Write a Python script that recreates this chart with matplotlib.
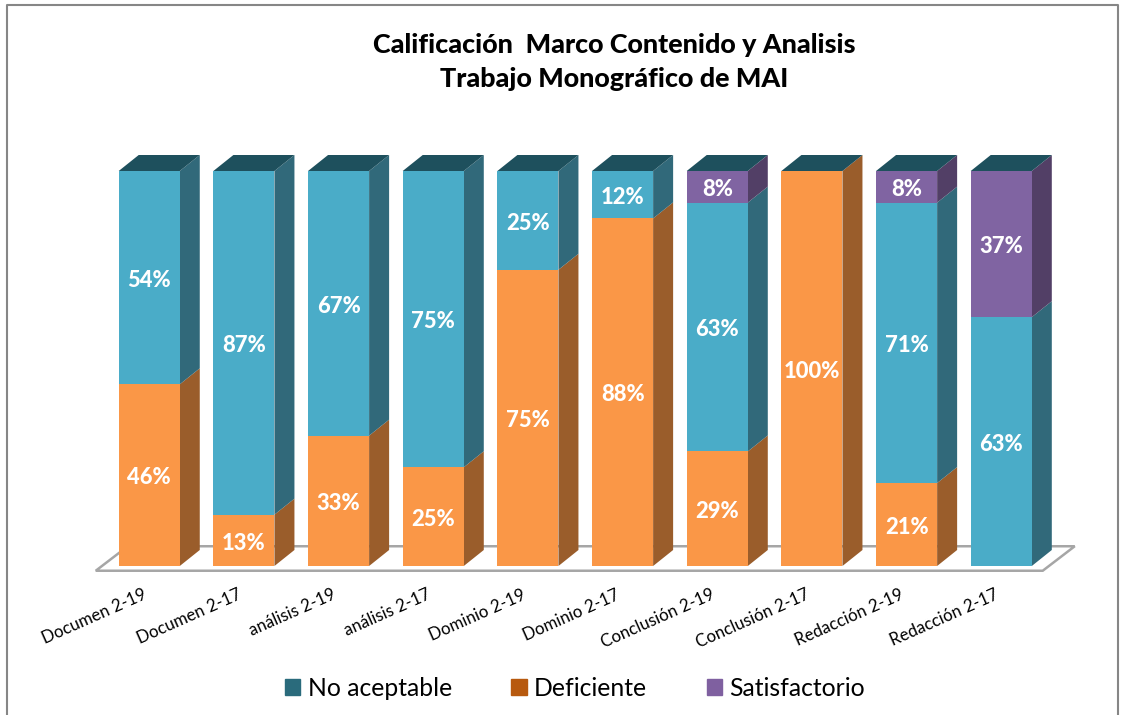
import matplotlib
matplotlib.use("Agg")
import numpy as np
import matplotlib.pyplot as plt
from matplotlib.lines import Line2D
from matplotlib.patches import Patch, Polygon
from matplotlib.transforms import ScaledTranslation

plt.rcParams['font.family'] = ['Lato', 'DejaVu Sans']

categories = ["Documen 2-19", "Documen 2-17", "análisis 2-19", "análisis 2-17",
              "Dominio 2-19", "Dominio 2-17", "Conclusión 2-19", "Conclusión 2-17",
              "Redacción 2-19", "Redacción 2-17"]
deficiente = [46, 13, 33, 25, 75, 88, 29, 100, 21, 0]
no_aceptable = [54, 87, 67, 75, 25, 12, 63, 0, 71, 63]
satisfactorio = [0, 0, 0, 0, 0, 0, 8, 0, 8, 37]

W, H = 1121, 715
BAR_W = 0.645
DX, DY = 0.2113, 4.05      # fake 3D depth, in data units
TOP = "#1E505D"

# bottom to top: name, values, front colour, side colour, legend colour
series = [
    ("Deficiente", deficiente, "#FA9747", "#9A5D2B", "#B7590E"),
    ("No aceptable", no_aceptable, "#4AACC8", "#31697A", "#2A6B7C"),
    ("Satisfactorio", satisfactorio, "#8064A2", "#523F66", "#7F60A0"),
]

fig = plt.figure(figsize=(W / 100, H / 100), dpi=100)
ax = fig.add_axes([101.9 / W, 1 - 566 / H, 946.7 / W, 395 / H])
ax.set_xlim(-0.5, 9.5)
ax.set_ylim(0, 100)
ax.set_frame_on(False)
ax.set_yticks([])

x = np.arange(len(categories))

# floor
ax.add_patch(Polygon([(-0.565, -1.2), (9.438, -1.2), (9.776, 5), (-0.227, 5)], closed=True,
                     fc="white", ec="#A6A6A6", lw=1.8, clip_on=False, zorder=1))

bottom = np.zeros(len(categories))
for name, vals, front, side, _ in series:
    vals = np.array(vals, dtype=float)
    bars = ax.bar(x, vals, BAR_W, bottom=bottom, color=front, zorder=3, clip_on=False)
    for xi, b, v in zip(x, bottom, vals):
        if v == 0:
            continue
        r = xi + BAR_W / 2
        ax.add_patch(Polygon([(r, b), (r + DX, b + DY), (r + DX, b + v + DY), (r, b + v)],
                             closed=True, fc=side, ec="none", clip_on=False, zorder=2))
    labels = [f"{int(v)}%" if v > 0 else "" for v in vals]
    ax.bar_label(bars, labels=labels, label_type="center", padding=-2, color="white",
                 fontsize=15.8, fontweight=900, zorder=5)
    bottom += vals

# tops are the same dark teal on every bar
for xi, t in zip(x, bottom):
    l, r = xi - BAR_W / 2, xi + BAR_W / 2
    ax.add_patch(Polygon([(l, t), (r, t), (r + DX, t + DY), (l + DX, t + DY)],
                         closed=True, fc=TOP, ec="none", clip_on=False, zorder=2))

ax.set_xticks(x)
ax.set_xticklabels(categories, rotation=24, ha="right", va="center",
                   rotation_mode="anchor", fontsize=12.2, color="black")
ax.tick_params(axis="x", length=0, pad=20)
shift = ScaledTranslation(-3.5 / 100, 0, fig.dpi_scale_trans)
for lab in ax.get_xticklabels():
    lab.set_transform(lab.get_transform() + shift)

fig.text(614.5 / W, 1 - 62 / H, "Calificación  Marco Contenido y Analisis\nTrabajo Monográfico de MAI",
         ha="center", va="center", fontsize=19.4, fontweight=900, linespacing=1.5)

handles = [
    Patch(color=series[1][4], label=series[1][0]),
    Patch(color=series[0][4], label=series[0][0]),
    Patch(color=series[2][4], label=series[2][0]),
]
fig.legend(handles=handles, ncol=3, loc="center", bbox_to_anchor=(575 / W, 1 - 688 / H),
           frameon=False, fontsize=17.8, handlelength=0.62, handleheight=0.62,
           handletextpad=0.3, columnspacing=2.4, borderpad=0)

# chart area border, cut off at the bottom of the image
fig.add_artist(Line2D([6.5 / W, 6.5 / W, 1118 / W, 1118 / W],
                      [0, 1 - 5 / H, 1 - 5 / H, 0], color="#868686", lw=1.5))

fig.savefig("out.png", dpi=100)
